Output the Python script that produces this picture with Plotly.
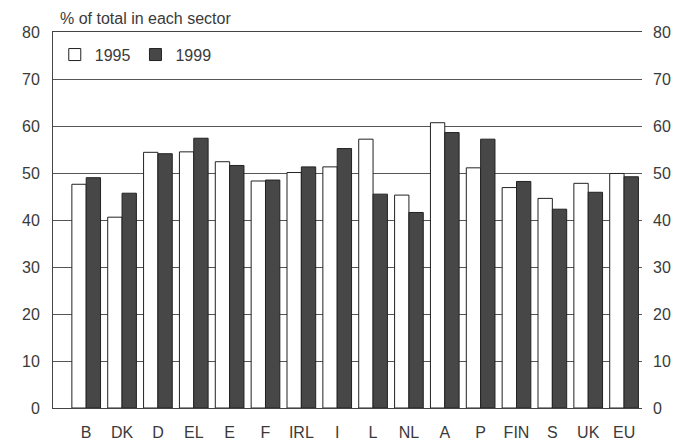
import plotly.graph_objects as go

countries = ["B", "DK", "D", "EL", "E", "F", "IRL", "I", "L", "NL", "A", "P", "FIN", "S", "UK", "EU"]
v1995 = [47.6, 40.6, 54.4, 54.5, 52.4, 48.3, 50.1, 51.3, 57.2, 45.3, 60.7, 51.1, 46.9, 44.6, 47.8, 49.9]
v1999 = [49.0, 45.7, 54.1, 57.4, 51.6, 48.5, 51.3, 55.2, 45.5, 41.6, 58.6, 57.2, 48.2, 42.3, 45.9, 49.2]
yticks = [0, 10, 20, 30, 40, 50, 60, 70, 80]

fig = go.Figure()
fig.add_trace(go.Bar(x=countries, y=v1995, name="1995",
                     marker=dict(color="white", line=dict(color="#222", width=1))))
fig.add_trace(go.Bar(x=countries, y=v1999, name="1999",
                     marker=dict(color="#474747", line=dict(color="#222", width=1))))
# invisible trace to activate right axis
fig.add_trace(go.Scatter(x=[countries[0]], y=[0], yaxis="y2", mode="markers",
                         marker=dict(opacity=0), showlegend=False, hoverinfo="skip"))

font = dict(family="Liberation Sans, Arial, sans-serif", size=16, color="#3a3a3a")
fig.update_layout(
    width=688, height=445,
    margin=dict(l=53, r=46, t=32, b=37, autoexpand=False),
    paper_bgcolor="white", plot_bgcolor="white",
    barmode="group", bargap=0.2, bargroupgap=0,
    font=font,
    legend=dict(x=0.003, y=0.985, xanchor="left", yanchor="top", orientation="h",
                bgcolor="rgba(0,0,0,0)", font=dict(size=16, color="#3a3a3a"),
                itemwidth=30, traceorder="normal"),
    xaxis=dict(showline=True, linecolor="#444", linewidth=1, mirror=True,
               ticks="", tickfont=font, automargin=False, ticklabelstandoff=10),
    yaxis=dict(range=[0, 80], tickvals=yticks, showgrid=True, gridcolor="#555",
               gridwidth=1, showline=True, linecolor="#444", linewidth=1,
               ticks="", tickfont=font, zeroline=False, automargin=False,
               ticklabelstandoff=9),
    yaxis2=dict(range=[0, 80], tickvals=yticks, overlaying="y", side="right",
                showgrid=False, showline=False, ticks="", tickfont=font,
                zeroline=False, automargin=False, ticklabelstandoff=10),
    annotations=[dict(text="% of total in each sector", xref="paper", yref="paper",
                      x=0.008, y=1.0, xanchor="left", yanchor="bottom", yshift=3,
                      showarrow=False, font=dict(size=16, color="#3a3a3a"))],
)
fig.write_html("out.html", config={"responsive": False, "displayModeBar": False},
               post_script="document.body.style.margin='0';document.body.style.overflow='hidden';")
